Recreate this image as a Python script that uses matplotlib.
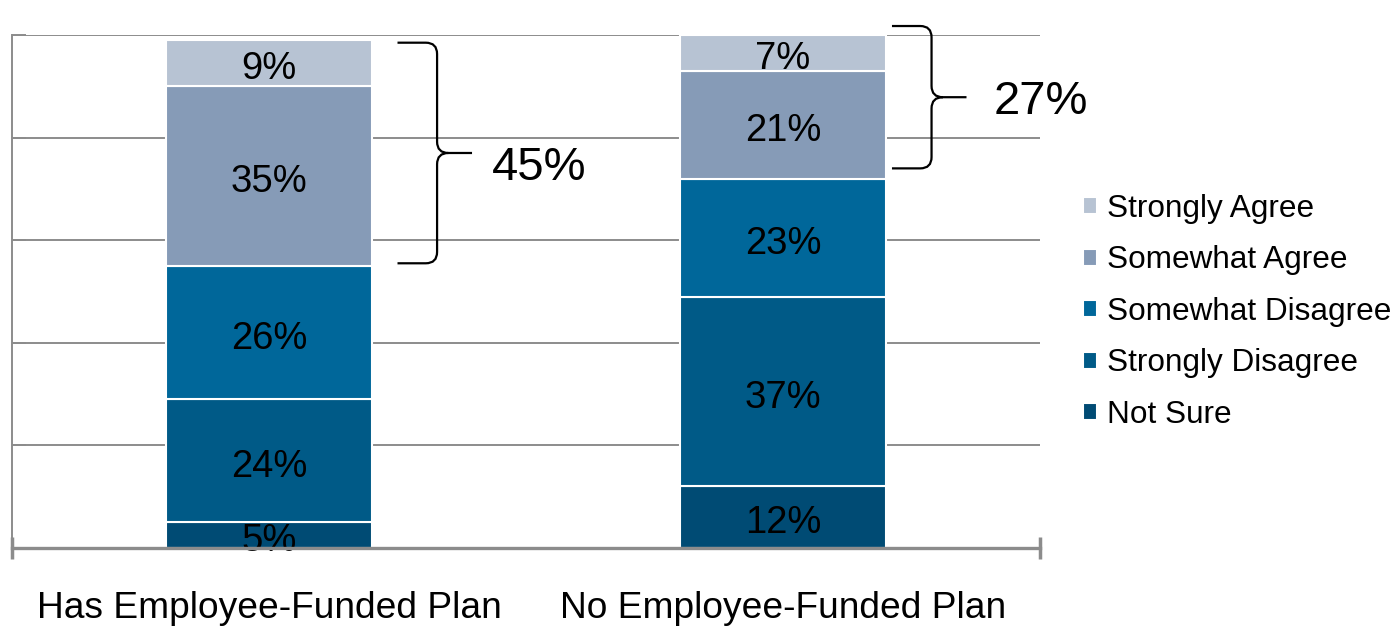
import matplotlib
matplotlib.use("Agg")
import matplotlib.pyplot as plt
import numpy as np
from matplotlib.path import Path
from matplotlib.patches import PathPatch

plt.rcParams['font.family'] = ['Liberation Sans', 'DejaVu Sans']

# data
groups = ["Has Employee-Funded Plan", "No Employee-Funded Plan"]
responses = ["Not Sure", "Strongly Disagree", "Somewhat Disagree",
             "Somewhat Agree", "Strongly Agree"]
has_plan = [5, 24, 26, 35, 9]
no_plan = [12, 37, 23, 21, 7]
agree_totals = ["45%", "27%"]
colors = ["#004b74", "#005a87", "#00679a", "#869bb7", "#b7c3d3"]

values = np.array([has_plan, no_plan])
x = np.arange(len(groups))
bar_w = 0.4

fig = plt.figure(figsize=(13.99, 6.26), dpi=100)
ax = fig.add_axes([12 / 1399, 78 / 626, 1028 / 1399, 513 / 626])

bottoms = np.zeros(len(groups))
handles = []
for i, resp in enumerate(responses):
    vals = values[:, i]
    bars = ax.bar(x, vals, bar_w, bottom=bottoms, color=colors[i],
                  edgecolor="white", linewidth=1.5, label=resp, zorder=3)
    handles.append(bars)
    for xi, v, b in zip(x, vals, bottoms):
        ax.text(xi, b + v / 2 - 1.2, f"{v}%", ha="center", va="center",
                fontsize=27.5, color="black", zorder=4)
    bottoms += vals

ax.set_xlim(-0.5, 1.5)
ax.set_ylim(0, 100)

# grid and axes styling
ax.set_yticks([0, 20, 40, 60, 80, 100])
ax.set_yticklabels([])
ax.yaxis.grid(True, color="#8c8c8c", linewidth=1.4, zorder=0)
ax.tick_params(axis="y", direction="in", length=10, width=1.4, color="#8c8c8c")
ax.set_xticks(x)
ax.set_xticklabels(groups, fontsize=26.7)
ax.tick_params(axis="x", which="major", length=0, pad=31)
ax.set_xticks([-0.5, 1.5], minor=True)
ax.tick_params(axis="x", which="minor", direction="inout", length=16,
               width=2.5, color="#8c8c8c")
for s in ["top", "right"]:
    ax.spines[s].set_visible(False)
ax.spines["left"].set_color("#8c8c8c")
ax.spines["left"].set_linewidth(1.4)
ax.spines["bottom"].set_color("#8c8c8c")
ax.spines["bottom"].set_linewidth(2.4)
ax.spines["bottom"].set_zorder(5)


def brace(ax, x0, x1, x2, lo, hi, rx=0.022, ry=2.2):
    mid = (lo + hi) / 2
    verts = [
        (x0, hi), (x1 - rx, hi), (x1, hi), (x1, hi - ry),
        (x1, mid + ry), (x1, mid), (x1 + rx, mid), (x2, mid),
        (x1 + rx, mid), (x1, mid), (x1, mid - ry),
        (x1, lo + ry), (x1, lo), (x1 - rx, lo), (x0, lo),
    ]
    codes = [
        Path.MOVETO, Path.LINETO, Path.CURVE3, Path.CURVE3,
        Path.LINETO, Path.CURVE3, Path.CURVE3, Path.LINETO,
        Path.MOVETO, Path.CURVE3, Path.CURVE3,
        Path.LINETO, Path.CURVE3, Path.CURVE3, Path.LINETO,
    ]
    ax.add_patch(PathPatch(Path(verts, codes), fill=False, color="black",
                           linewidth=1.6, clip_on=False, zorder=6))
    return mid


shifts = [0.0, 1.5]
gaps = [0.05, 0.012]
text_dx = [0.183, 0.198]
text_dy = [-3.0, -1.0]
for i, xi in enumerate(x):
    lo = values[i, :3].sum() + 0.5 + shifts[i]
    hi = values[i].sum() - 0.5 + shifts[i] * 1.5
    x0 = xi + bar_w / 2 + gaps[i]
    mid = brace(ax, x0, x0 + 0.077, x0 + 0.145, lo, hi)
    ax.text(x0 + text_dx[i], mid + text_dy[i], agree_totals[i], fontsize=34,
            ha="left", va="center")

fig.legend(handles[::-1], responses[::-1], loc="upper left",
           bbox_to_anchor=(1083 / 1399, 1 - 194 / 626), frameon=False,
           fontsize=22.7, handlelength=0.45, handleheight=0.45,
           handletextpad=0.3, labelspacing=0.68, borderpad=0,
           borderaxespad=0)

fig.savefig("out.png", dpi=100)
